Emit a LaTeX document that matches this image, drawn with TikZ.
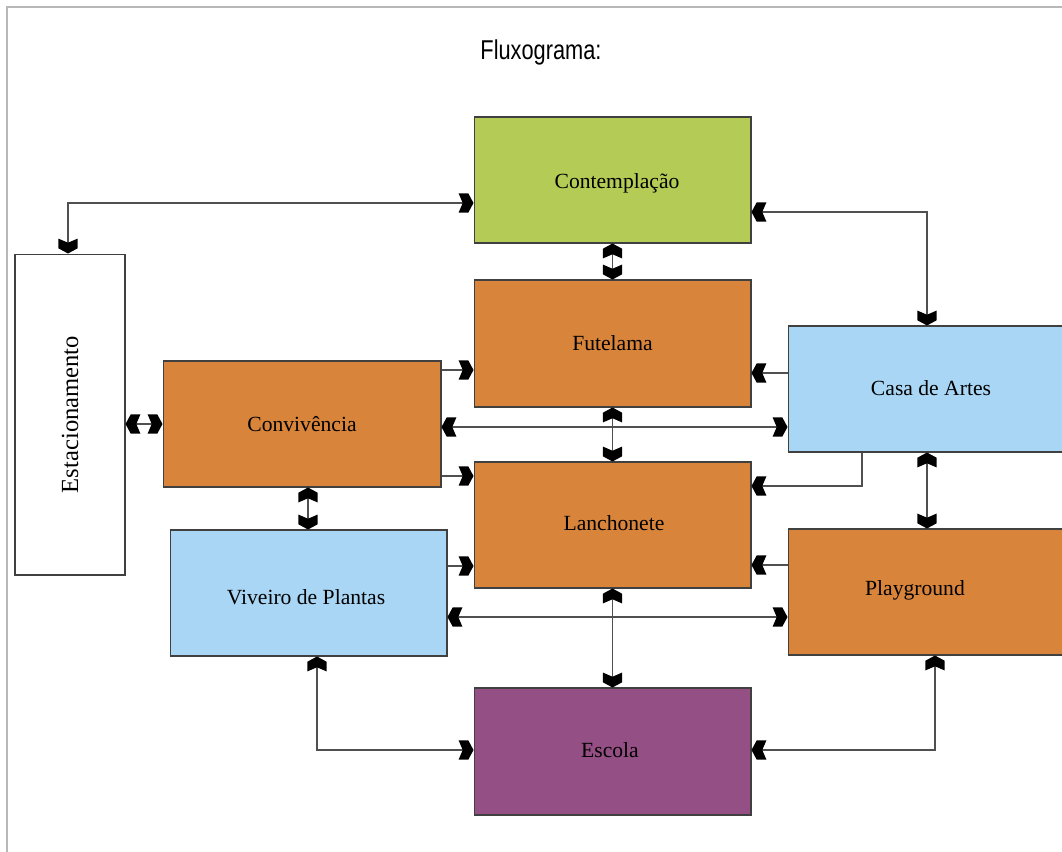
\documentclass[tikz,border=0pt]{standalone}
\usepackage{fontspec}
\setmainfont{Liberation Serif}
\newfontfamily\titlefont{Liberation Sans}
\usetikzlibrary{arrows.meta}
\definecolor{cgreen}{HTML}{B4CB55}
\definecolor{corange}{HTML}{D9843B}
\definecolor{cblue}{HTML}{A9D6F4}
\definecolor{cpurple}{HTML}{944F84}
\definecolor{cborder}{HTML}{404040}
\definecolor{cline}{HTML}{505050}
\definecolor{cframe}{HTML}{B8B8B8}
\pgfdeclarearrow{
  name=Chev,
  setup code={
    \pgfarrowssettipend{0pt}
    \pgfarrowssetlineend{-0.7\pgfarrowlength}
    \pgfarrowssetvisualbackend{-\pgfarrowlength}
    \pgfarrowssetbackend{-\pgfarrowlength}
    \pgfarrowssavethe\pgfarrowlength
    \pgfarrowssavethe\pgfarrowwidth
  },
  drawing code={
    \pgfpathmoveto{\pgfpoint{0pt}{0pt}}
    \pgfpathlineto{\pgfpoint{-0.35\pgfarrowlength}{0.5\pgfarrowwidth}}
    \pgfpathlineto{\pgfpoint{-\pgfarrowlength}{0.5\pgfarrowwidth}}
    \pgfpathlineto{\pgfpoint{-0.72\pgfarrowlength}{0pt}}
    \pgfpathlineto{\pgfpoint{-\pgfarrowlength}{-0.5\pgfarrowwidth}}
    \pgfpathlineto{\pgfpoint{-0.35\pgfarrowlength}{-0.5\pgfarrowwidth}}
    \pgfpathclose
    \pgfusepathqfill
  },
  parameters={\the\pgfarrowlength,\the\pgfarrowwidth},
  defaults={length=7pt, width=7.5pt}
}
\tikzset{
  tip/.tip={Chev[length=8.5pt,width=11pt,color=black]},
  box/.style={draw=cborder, line width=0.6pt, rectangle, minimum width=5.54cm, minimum height=2.52cm, inner sep=0pt, font=\fontsize{12.3}{14}\selectfont},
  conn/.style={draw=cline, line width=0.7pt},
  both/.style={conn, tip-tip},
  to/.style={conn, -tip},
}
\begin{document}
\begin{tikzpicture}[x=0.02cm, y=-0.02cm]
\useasboundingbox (0,0) rectangle (1062,852);
\clip (0,0) rectangle (1062,852);
\fill[white] (0,0) rectangle (1062,852);
\draw[cframe, line width=0.8pt] (7,852) -- (7,7) -- (1062,7);
\node[font=\titlefont\fontsize{15.5}{18}\selectfont] (title) at (541,52) {\scalebox{0.8}[1]{Fluxograma:}};

\node[box, fill=cgreen] (cont) at (612.5,180) {};
\node[font=\fontsize{12.3}{14}\selectfont] (contl) at (617,183) {Contempla\c{c}\~ao};
\node[box, fill=corange, minimum height=2.54cm] (fut) at (612.5,343.5) {Futelama};
\node[box, fill=corange] (lan) at (612.5,525) {};
\node[font=\fontsize{12.3}{14}\selectfont] (lanl) at (614,523) {Lanchonete};
\node[box, fill=cpurple, minimum height=2.54cm] (esc) at (612.5,751.5) {};
\node[font=\fontsize{12.3}{14}\selectfont] (escl) at (610,750) {Escola};
\node[box, fill=white, minimum width=2.2cm, minimum height=6.42cm] (est) at (70,414.5) {};
\node[rotate=90, font=\fontsize{14}{16}\selectfont] (estl) at (est.center) {Estacionamento};
\node[box, fill=corange, minimum width=5.56cm] (conv) at (302,424) {Conviv\^encia};
\node[box, fill=cblue] (viv) at (308.5,593) {};
\node[font=\fontsize{12.3}{14}\selectfont] (vivl) at (306,597) {Viveiro de Plantas};
\node[box, fill=cblue, minimum width=5.6cm] (casa) at (928,389) {};
\node[font=\fontsize{12.3}{14}\selectfont] (casal) at (931,388) {Casa de Artes};
\node[box, fill=corange, minimum width=5.6cm] (play) at (928,592) {};
\node[font=\fontsize{12.3}{14}\selectfont] (playl) at (915,590) {Playground};

% connectors
\draw[both] (est.north -| 68,0) |- (cont.west |- 0,203);
\draw[both] (cont.east |- 0,212) -| (casa.north -| 927,0);
\draw[both] (cont.south) -- (fut.north);
\draw[to] (conv.east |- 0,370) -- (fut.west |- 0,370);
\draw[to] (casa.west |- 0,373) -- (fut.east |- 0,373);
\draw[both] (conv.east |- 0,427) -- (casa.west |- 0,427);
\draw[both] (fut.south) -- (lan.north);
\draw[to] (conv.east |- 0,476) -- (lan.west |- 0,476);
\draw[to] (casa.south -| 862,0) |- (lan.east |- 0,486);
\draw[both] (casa.south -| 927,0) -- (play.north -| 927,0);
\draw[both] (est.east |- 0,424) -- (conv.west |- 0,424);
\draw[both] (conv.south -| 308,0) -- (viv.north -| 308,0);
\draw[to] (viv.east |- 0,566) -- (lan.west |- 0,566);
\draw[to] (play.west |- 0,565) -- (lan.east |- 0,565);
\draw[both] (viv.east |- 0,617) -- (play.west |- 0,617);
\draw[both] (lan.south) -- (esc.north);
\draw[both] (viv.south -| 317,0) |- (esc.west |- 0,750);
\draw[both] (play.south -| 935,0) |- (esc.east |- 0,750);
\end{tikzpicture}
\end{document}
